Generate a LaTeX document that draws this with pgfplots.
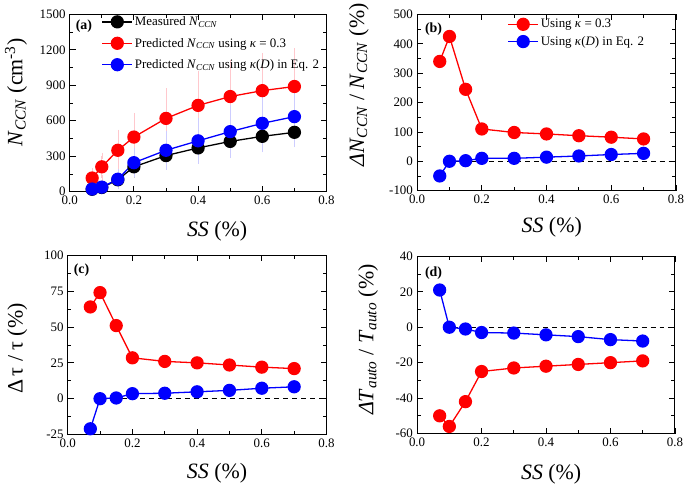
\documentclass[border=0pt]{standalone}
\usepackage{fontspec}
\setmainfont{Liberation Serif}
\usepackage{pgfplots}
\usepackage{pgfplotstable}
\pgfplotsset{compat=1.18}

\newcommand{\Nccn}{\textit{N}\textsubscript{\textit{CCN}}}
\newcommand{\Tauto}{\textit{T}\textsubscript{\textit{auto}}}

\definecolor{pinkerr}{RGB}{255,200,205}
\definecolor{blueerr}{RGB}{205,205,255}
\definecolor{grayerr}{RGB}{205,205,215}

\pgfplotstableread{
x     meas  emeas red  ered blue eblue
0.07  20    15    115  60   22   15
0.10  35    25    210  95   38   30
0.15  100   50    350  150  105  60
0.20  210   70    462  180  245  100
0.30  305   95    620  230  350  140
0.40  370   100   730  270  430  170
0.50  425   110   805  280  508  200
0.60  468   105   855  295  578  220
0.70  502   100   890  300  635  230
}\tabA

\pgfplotstableread{
x     red   blue
0.07  340   -50
0.10  425   0
0.15  245   2
0.20  110   10
0.30  98    10
0.40  93    14
0.50  87    18
0.60  82    23
0.70  76    27
}\tabB

\pgfplotstableread{
x     red   blue
0.07  64    -21
0.10  74    0
0.15  51    0.5
0.20  28.5  3.5
0.30  26    3.8
0.40  25    4.8
0.50  23.5  5.8
0.60  22    7.3
0.70  21    8.3
}\tabC

\pgfplotstableread{
x     red   blue
0.07  -50   21
0.10  -56   0
0.15  -42   -1
0.20  -25   -3
0.30  -23   -3.3
0.40  -22   -4.3
0.50  -21   -5.3
0.60  -20   -7
0.70  -19   -7.8
}\tabD

\tikzset{panellabel/.style={anchor=north west, font=\fontsize{14}{14}\selectfont\bfseries, inner sep=0pt}}

\pgfplotsset{
  panel/.style={
    scale only axis,
    xmin=0, xmax=0.8,
    xtick={0,0.2,0.4,0.6,0.8},
    minor x tick num=1, minor y tick num=1,
    tick align=inside,
    xtick pos=both, ytick pos=both,
    major tick length=6pt, minor tick length=3.5pt,
    /pgf/number format/assume math mode=true,
    /pgf/number format/1000 sep={},
    tick label style={font=\fontsize{13}{13}\selectfont},
    xticklabel style={yshift=-3pt, inner sep=1pt, /pgf/number format/.cd, fixed, fixed zerofill, precision=1},
    yticklabel style={xshift=-3pt, inner sep=1pt},
    axis line style={line width=0.9pt},
    every tick/.style={black, line width=0.8pt},
    label style={font=\fontsize{22}{24}\selectfont},
    xlabel={\textit{SS} (\%)},
    clip=false,
  },
  redline/.style={red, line width=1.3pt, mark=*, mark size=6pt, mark options={solid, fill=red, draw=red}},
  blueline/.style={blue, line width=1.3pt, mark=*, mark size=6pt, mark options={solid, fill=blue, draw=blue}},
  blackline/.style={black, line width=1.3pt, mark=*, mark size=6pt, mark options={solid, fill=black, draw=black}},
  zeroline/.style={black, dashed, line width=0.9pt, dash pattern=on 5pt off 4pt, forget plot},
  legimg/.style={legend image code/.code={\draw[##1, mark repeat=2, mark phase=2] plot coordinates {(0pt,0pt) (15pt,0pt) (30pt,0pt)};}},
}

\begin{document}
\begin{tikzpicture}
\path (0pt,0pt) rectangle (685pt,482pt);

% (a)
\begin{axis}[panel, at={(70pt,297pt)}, anchor=south west, width=258pt, height=178pt,
  ymin=0, ymax=1500, ytick={0,300,600,900,1200,1500},
  ylabel={\Nccn\ (cm\textsuperscript{-3})},
  xlabel style={at={(axis description cs:0.574,-0.225)}, anchor=center},
  ylabel style={at={(axis description cs:-0.209,0.56)}, anchor=center},
  legimg,
  legend style={at={(axis description cs:0.124,1.0)}, anchor=north west, draw=none, fill=none,
    font=\fontsize{13}{13}\selectfont, row sep=7pt, inner sep=0pt},
  legend cell align=left]
\addplot[only marks, mark=none, forget plot, error bars/.cd, y dir=both, y explicit,
  error bar style={color=grayerr, line width=0.6pt}, error mark options={mark size=3pt, grayerr}]
  table[x=x, y=meas, y error=emeas] {\tabA};
\addplot[only marks, mark=none, forget plot, error bars/.cd, y dir=both, y explicit,
  error bar style={color=pinkerr, line width=0.6pt}, error mark options={mark size=3pt, pinkerr}]
  table[x=x, y=red, y error=ered] {\tabA};
\addplot[only marks, mark=none, forget plot, error bars/.cd, y dir=both, y explicit,
  error bar style={color=blueerr, line width=0.6pt}, error mark options={mark size=3pt, blueerr}]
  table[x=x, y=blue, y error=eblue] {\tabA};
\addplot[blackline] table[x=x, y=meas] {\tabA};
\addlegendentry{Measured \Nccn}
\addplot[redline] table[x=x, y=red] {\tabA};
\addlegendentry{Predicted \Nccn\ using \textit{κ} = 0.3}
\addplot[blueline] table[x=x, y=blue] {\tabA};
\addlegendentry{Predicted \Nccn\ using \textit{κ}(\textit{D}) in Eq. 2}
\node[panellabel] at (rel axis cs:0.023,0.972) {(a)};
\end{axis}

% (b)
\begin{axis}[panel, at={(419pt,298pt)}, anchor=south west, width=260pt, height=177pt,
  ymin=-100, ymax=500, ytick={-100,0,100,200,300,400,500},
  ylabel={\textit{Δ}\Nccn\ / \Nccn\ (\%)},
  xlabel style={at={(axis description cs:0.52,-0.205)}, anchor=center},
  ylabel style={at={(axis description cs:-0.225,0.6)}, anchor=center},
  legimg,
  legend style={at={(axis description cs:0.349,0.985)}, anchor=north west, draw=none, fill=none,
    font=\fontsize{13}{13}\selectfont, row sep=3pt, inner sep=0pt},
  legend cell align=left]
\addplot[zeroline] coordinates {(0.085,0) (0.8,0)};
\addplot[redline] table[x=x, y=red] {\tabB};
\addlegendentry{Using \textit{κ} = 0.3}
\addplot[blueline] table[x=x, y=blue] {\tabB};
\addlegendentry{Using \textit{κ}(\textit{D}) in Eq. 2}
\node[panellabel] at (rel axis cs:0.03,0.955) {(b)};
\end{axis}

% (c)
\begin{axis}[panel, at={(68pt,53pt)}, anchor=south west, width=260pt, height=180pt,
  ymin=-25, ymax=100, ytick={-25,0,25,50,75,100},
  ylabel={Δ\,τ / τ (\%)},
  xlabel style={at={(axis description cs:0.577,-0.215)}, anchor=center},
  ylabel style={at={(axis description cs:-0.194,0.48)}, anchor=center}]
\addplot[zeroline] coordinates {(0.085,0) (0.8,0)};
\addplot[redline] table[x=x, y=red] {\tabC};
\addplot[blueline] table[x=x, y=blue] {\tabC};
\node[panellabel] at (rel axis cs:0.023,0.955) {(c)};
\end{axis}

% (d)
\begin{axis}[panel, at={(419pt,54pt)}, anchor=south west, width=259pt, height=178pt,
  ymin=-60, ymax=40, ytick={-60,-40,-20,0,20,40},
  ylabel={\textit{Δ}\Tauto\ / \Tauto\ (\%)},
  xlabel style={at={(axis description cs:0.52,-0.228)}, anchor=center},
  ylabel style={at={(axis description cs:-0.19,0.53)}, anchor=center}]
\addplot[zeroline] coordinates {(0.085,0) (0.8,0)};
\addplot[redline] table[x=x, y=red] {\tabD};
\addplot[blueline] table[x=x, y=blue] {\tabD};
\node[panellabel] at (rel axis cs:0.03,0.94) {(d)};
\end{axis}
\end{tikzpicture}
\end{document}
